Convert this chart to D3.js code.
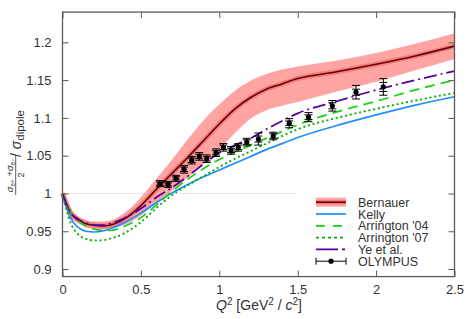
<!DOCTYPE html>
<html><head><meta charset="utf-8">
<script src="https://cdn.jsdelivr.net/npm/d3@7"></script>
<style>
html,body{margin:0;padding:0;background:#fff;}
text{font-family:"Liberation Sans",Arial,sans-serif;fill:#333;}
</style></head>
<body><svg id="c" width="476" height="319"></svg>
<script>
// ---- data ----
const curveQ2 = [0,0.05,0.1,0.15,0.2,0.25,0.3,0.4,0.5,0.6,0.7,0.8,0.9,1.0,1.1,1.2,1.3,1.4,1.5,1.75,2.0,2.25,2.5];
const bernauer   = [1.0,0.975,0.965,0.960,0.958,0.957,0.958,0.967,0.984,1.006,1.027,1.048,1.070,1.092,1.112,1.127,1.138,1.145,1.152,1.161,1.171,1.182,1.195];
const bernauerLo = [1.0,0.969,0.961,0.955,0.953,0.952,0.953,0.959,0.971,0.988,1.004,1.021,1.039,1.058,1.080,1.099,1.110,1.116,1.121,1.135,1.148,1.163,1.178];
const bernauerHi = [1.0,0.980,0.970,0.965,0.963,0.963,0.964,0.975,0.995,1.020,1.045,1.072,1.097,1.118,1.136,1.149,1.158,1.164,1.168,1.176,1.186,1.198,1.212];
const kelly      = [1.0,0.968,0.955,0.950,0.949,0.950,0.953,0.962,0.974,0.988,1.001,1.012,1.022,1.031,1.040,1.049,1.058,1.066,1.074,1.090,1.104,1.117,1.128];
const arrington04= [1.0,0.976,0.964,0.957,0.953,0.951,0.951,0.957,0.968,0.985,1.003,1.019,1.033,1.045,1.055,1.064,1.073,1.082,1.091,1.108,1.122,1.137,1.150];
const arrington07= [1.0,0.962,0.946,0.940,0.938,0.938,0.940,0.948,0.962,0.981,0.998,1.011,1.023,1.035,1.046,1.056,1.066,1.076,1.085,1.100,1.112,1.123,1.133];
const yeEtAl     = [1.0,0.975,0.966,0.961,0.958,0.958,0.960,0.968,0.980,0.995,1.008,1.023,1.039,1.054,1.064,1.073,1.085,1.096,1.106,1.122,1.137,1.150,1.162];

const olyQ2    = [0.622,0.673,0.724,0.775,0.824,0.872,0.920,0.979,1.026,1.075,1.121,1.175,1.249,1.344,1.446,1.569,1.721,1.872,2.046];
const olyVal   = [1.013,1.012,1.020,1.032,1.044,1.049,1.046,1.054,1.061,1.057,1.061,1.068,1.072,1.076,1.093,1.101,1.116,1.134,1.141];
const olyStat  = [0.002,0.002,0.002,0.003,0.003,0.003,0.003,0.003,0.003,0.003,0.003,0.003,0.004,0.003,0.003,0.003,0.004,0.004,0.006];
const olyTot   = [0.004,0.004,0.004,0.005,0.005,0.005,0.005,0.005,0.005,0.005,0.005,0.005,0.008,0.005,0.006,0.006,0.007,0.009,0.011];

const xTicks = [0,0.5,1,1.5,2,2.5];
const xTickLabels = ["0","0.5","1","1.5","2","2.5"];
const yTicks = [0.9,0.95,1,1.05,1.1,1.15,1.2];
const yTickLabels = ["0.9","0.95","1","1.05","1.1","1.15","1.2"];
const legendLabels = ["Bernauer","Kelly","Arrington '04","Arrington '07","Ye et al.","OLYMPUS"];

// ---- layout ----
const svg = d3.select("#c");
const L=62.5, R=454.5, T=12.1, B=276.6;
const x = d3.scaleLinear().domain([0,2.5]).range([L,R]);
const y = d3.scaleLinear().domain([0.89,1.24]).range([B,T]);
const axisCol = "#5a5a5a";

// reference dotted line at 1
svg.append("line").attr("x1",x(0)).attr("x2",x(1.49)).attr("y1",y(1)).attr("y2",y(1))
  .attr("stroke","#aaa").attr("stroke-width",0.8).attr("stroke-dasharray","1,2");

const pts = arr => arr.map((v,i)=>[curveQ2[i],v]);
const line = d3.line().x(d=>x(d[0])).y(d=>y(d[1])).curve(d3.curveMonotoneX);
const area = d3.area().x((d,i)=>x(curveQ2[i])).y0(d=>y(d[0])).y1(d=>y(d[1])).curve(d3.curveMonotoneX);

// Bernauer band
svg.append("path").datum(bernauerLo.map((v,i)=>[v,bernauerHi[i]])).attr("d",area)
  .attr("fill","#ffa3a3").attr("stroke","none");
svg.append("path").datum(pts(bernauer)).attr("d",line).attr("fill","none")
  .attr("stroke","#f27d7d").attr("stroke-width",5);
svg.append("path").datum(pts(bernauer)).attr("d",line).attr("fill","none")
  .attr("stroke","#6a0000").attr("stroke-width",1.6);

const styles = [
  {data:kelly, color:"#1e8fff", dash:null, w:1.7},
  {data:arrington04, color:"#16d016", dash:"10,6", w:1.7},
  {data:arrington07, color:"#0aaa0a", dash:"2,2.8", w:1.9},
  {data:yeEtAl, color:"#52009c", dash:"13,4,2,4", w:1.7}
];
styles.forEach(s=>{
  svg.append("path").datum(pts(s.data)).attr("d",line).attr("fill","none")
    .attr("stroke",s.color).attr("stroke-width",s.w).attr("stroke-dasharray",s.dash);
});

// OLYMPUS points
const og = svg.append("g");
olyQ2.forEach((q,i)=>{
  const cx=x(q), v=olyVal[i];
  og.append("line").attr("x1",cx).attr("x2",cx).attr("y1",y(v-olyTot[i])).attr("y2",y(v+olyTot[i]))
    .attr("stroke","#000").attr("stroke-width",1);
  [v-olyTot[i],v+olyTot[i],v-olyStat[i],v+olyStat[i]].forEach(e=>{
    og.append("line").attr("x1",cx-4).attr("x2",cx+4).attr("y1",y(e)).attr("y2",y(e))
      .attr("stroke","#000").attr("stroke-width",1);
  });
  og.append("circle").attr("cx",cx).attr("cy",y(v)).attr("r",2.6).attr("fill","#000");
});

// axes
function styleAxis(g){
  g.select(".domain").remove();
  g.selectAll(".tick line").attr("stroke",axisCol).attr("stroke-width",1);
  g.selectAll(".tick text").style("font-size","13px").attr("fill","#333");
}
svg.append("g").attr("transform",`translate(0,${B})`)
  .call(d3.axisBottom(x).tickValues(xTicks).tickFormat((d,i)=>xTickLabels[i]).tickSizeInner(-6).tickSizeOuter(0).tickPadding(8))
  .call(styleAxis);
svg.append("g").attr("transform",`translate(0,${T})`)
  .call(d3.axisTop(x).tickValues(xTicks).tickFormat("").tickSizeInner(-6).tickSizeOuter(0))
  .call(styleAxis);
svg.append("g").attr("transform",`translate(${L},0)`)
  .call(d3.axisLeft(y).tickValues(yTicks).tickFormat((d,i)=>yTickLabels[i]).tickSizeInner(-6).tickSizeOuter(0).tickPadding(11))
  .call(styleAxis);
svg.append("g").attr("transform",`translate(${R},0)`)
  .call(d3.axisRight(y).tickValues(yTicks).tickFormat("").tickSizeInner(-6).tickSizeOuter(0))
  .call(styleAxis);
svg.append("rect").attr("x",L).attr("y",T).attr("width",R-L).attr("height",B-T)
  .attr("fill","none").attr("stroke",axisCol).attr("stroke-width",1.3);

// x title
const xt = svg.append("text").attr("x",259).attr("y",310).attr("text-anchor","middle").style("font-size","14px");
xt.append("tspan").text("Q").style("font-style","italic");
xt.append("tspan").text("2").attr("dy",-5).style("font-size","10px");
xt.append("tspan").text(" [GeV").attr("dy",5);
xt.append("tspan").text("2").attr("dy",-5).style("font-size","10px");
xt.append("tspan").text(" / ").attr("dy",5);
xt.append("tspan").text("c").style("font-style","italic");
xt.append("tspan").text("2").attr("dy",-5).style("font-size","10px");
xt.append("tspan").text("]").attr("dy",5);

// y title (rotated)
const yg = svg.append("g").attr("transform","rotate(-90)");
const num = yg.append("text").attr("x",-175).attr("y",12.5).attr("text-anchor","middle").style("font-size","9.5px");
num.append("tspan").text("σ").style("font-style","italic");
num.append("tspan").text("e+").attr("dy",2).style("font-size","6.5px");
num.append("tspan").text(" +").attr("dy",-2);
num.append("tspan").text("σ").style("font-style","italic");
num.append("tspan").text("e−").attr("dy",2).style("font-size","6.5px");
yg.append("line").attr("x1",-195).attr("x2",-155).attr("y1",15.7).attr("y2",15.7).attr("stroke","#333").attr("stroke-width",0.8);
yg.append("text").attr("x",-175).attr("y",23.5).attr("text-anchor","middle").style("font-size","9px").text("2");
const yt = yg.append("text").attr("x",-157).attr("y",21).style("font-size","14px");
yt.append("tspan").text("/ ");
yt.append("tspan").text("σ").style("font-style","italic");
yt.append("tspan").text("dipole").attr("dy",3).style("font-size","11.5px");

// legend
const lx0=316, lx1=346, tx=358;
const lb = [206.7,218.5,230.3,242.1,253.9,265.7];
const lc = lb.map(b=>b-4.5);
const lg = svg.append("g");
lg.append("rect").attr("x",lx0).attr("y",lc[0]-4.5).attr("width",lx1-lx0).attr("height",9).attr("fill","#ffa3a3");
lg.append("rect").attr("x",lx0).attr("y",lc[0]-2.2).attr("width",lx1-lx0).attr("height",4.4).attr("fill","#f27d7d");
lg.append("line").attr("x1",lx0).attr("x2",lx1).attr("y1",lc[0]).attr("y2",lc[0]).attr("stroke","#6a0000").attr("stroke-width",1.6);
const legDash=[null,"9,8","3,3","22,4,3,4"];
styles.forEach((s,i)=>{
  lg.append("line").attr("x1",lx0).attr("x2",lx1).attr("y1",lc[i+1]).attr("y2",lc[i+1])
    .attr("stroke",s.color).attr("stroke-width",s.w).attr("stroke-dasharray",legDash[i]);
});
lg.append("line").attr("x1",lx0).attr("x2",lx1).attr("y1",lc[5]).attr("y2",lc[5]).attr("stroke","#000").attr("stroke-width",1);
[lx0,lx1].forEach(xx=>lg.append("line").attr("x1",xx).attr("x2",xx).attr("y1",lc[5]-3.5).attr("y2",lc[5]+3.5).attr("stroke","#000").attr("stroke-width",1));
lg.append("circle").attr("cx",(lx0+lx1)/2).attr("cy",lc[5]).attr("r",2.6).attr("fill","#000");
legendLabels.forEach((t,i)=>{
  lg.append("text").attr("x",tx).attr("y",lb[i]).style("font-size","12.5px").text(t);
});
</script></body></html>
